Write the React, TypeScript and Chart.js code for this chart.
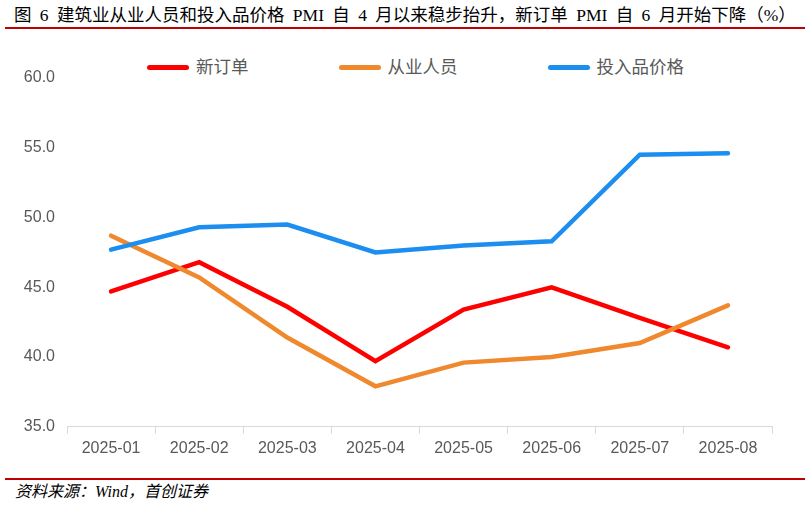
import React, { useEffect, useRef } from 'react';
import { Chart, registerables } from 'chart.js';

Chart.register(...registerables);

const months = ['2025-01', '2025-02', '2025-03', '2025-04', '2025-05', '2025-06', '2025-07', '2025-08'];
const newOrders = [44.7, 46.8, 43.6, 39.7, 43.4, 45.0, 42.8, 40.7];
const employment = [48.7, 45.7, 41.4, 37.9, 39.6, 40.0, 41.0, 43.7];
const inputPrices = [47.7, 49.3, 49.5, 47.5, 48.0, 48.3, 54.5, 54.6];
const seriesNames = ['新订单', '从业人员', '投入品价格'];
const seriesColors = ['#FF0000', '#F0882E', '#1B8EEF'];

const TITLE = '图 6 建筑业从业人员和投入品价格 PMI 自 4 月以来稳步抬升，新订单 PMI 自 6 月开始下降（%）';
const SOURCE = '资料来源：Wind，首创证券';

const cjkFont = '"Liberation Serif", "Noto Sans CJK SC", serif';
const tickFont = '"Liberation Sans", Arial, sans-serif';

const App: React.FC = () => {
    const canvasRef = useRef<HTMLCanvasElement>(null);
    const chartRef = useRef<Chart | null>(null);

    useEffect(() => {
        document.body.style.margin = '0';
        if (!canvasRef.current) return;
        const ctx = canvasRef.current.getContext('2d');
        if (!ctx) return;
        const values = [newOrders, employment, inputPrices];

        chartRef.current = new Chart(ctx, {
            type: 'line',
            data: {
                labels: months,
                datasets: values.map((data, i) => ({
                    label: seriesNames[i],
                    data,
                    borderColor: seriesColors[i],
                    backgroundColor: seriesColors[i],
                    borderWidth: 4.5,
                    pointRadius: 0,
                    tension: 0,
                    borderCapStyle: 'round' as const,
                    borderJoinStyle: 'miter' as const,
                    // later series sit on top, as in the source
                    order: values.length - i,
                })),
            },
            options: {
                responsive: false,
                animation: false,
                layout: { padding: { top: 39, right: 37, bottom: 6, left: 0 } },
                plugins: {
                    legend: { display: false },
                    tooltip: { enabled: false },
                },
                scales: {
                    x: {
                        offset: true,
                        grid: {
                            display: true,
                            offset: true,
                            drawOnChartArea: false,
                            drawTicks: true,
                            tickLength: 7,
                            color: '#D9D9D9',
                        },
                        border: { display: true, color: '#D9D9D9', width: 1 },
                        ticks: {
                            color: '#595959',
                            font: { family: tickFont, size: 16 },
                            padding: 5,
                            maxRotation: 0,
                        },
                    },
                    y: {
                        min: 35,
                        max: 60,
                        grid: { display: false, drawTicks: false },
                        border: { display: false },
                        ticks: {
                            stepSize: 5,
                            color: '#595959',
                            font: { family: tickFont, size: 16 },
                            padding: 12,
                            callback: (v) => Number(v).toFixed(1),
                        },
                        afterFit: (scale) => {
                            scale.width = 67;
                        },
                    },
                },
            },
        });

        return () => {
            if (chartRef.current) {
                chartRef.current.destroy();
                chartRef.current = null;
            }
        };
    }, []);

    return (
        <div style={{ position: 'relative', width: 809, height: 506, background: '#fff', overflow: 'hidden' }}>
            <div
                style={{
                    position: 'absolute',
                    left: 14,
                    top: 4,
                    fontFamily: cjkFont,
                    fontSize: 17.5,
                    lineHeight: '22px',
                    wordSpacing: 4,
                    color: '#000',
                    whiteSpace: 'nowrap',
                }}
            >
                {TITLE}
            </div>
            <div style={{ position: 'absolute', left: 5, top: 27, width: 800, height: 2, background: '#C00000' }} />

            <div
                style={{
                    position: 'absolute',
                    left: 147,
                    top: 56,
                    display: 'flex',
                    alignItems: 'center',
                    gap: 90,
                    whiteSpace: 'nowrap',
                }}
            >
                {seriesNames.map((name, i) => (
                    <div key={name} style={{ display: 'flex', alignItems: 'center' }}>
                        <span
                            style={{
                                display: 'inline-block',
                                width: 42,
                                height: 5,
                                borderRadius: 3,
                                background: seriesColors[i],
                                marginRight: 7,
                            }}
                        />
                        <span style={{ fontFamily: cjkFont, fontSize: 17.5, lineHeight: '22px', color: '#595959' }}>
                            {name}
                        </span>
                    </div>
                ))}
            </div>

            <canvas
                ref={canvasRef}
                width={809}
                height={430}
                style={{ position: 'absolute', left: 0, top: 39, width: 809, height: 430 }}
            />

            <div style={{ position: 'absolute', left: 5, top: 478, width: 800, height: 2, background: '#C00000' }} />
            <div
                style={{
                    position: 'absolute',
                    left: 15,
                    top: 482,
                    fontFamily: cjkFont,
                    fontStyle: 'italic',
                    fontSize: 16,
                    lineHeight: '20px',
                    color: '#000',
                    whiteSpace: 'nowrap',
                }}
            >
                {SOURCE}
            </div>
        </div>
    );
};

export default App;
